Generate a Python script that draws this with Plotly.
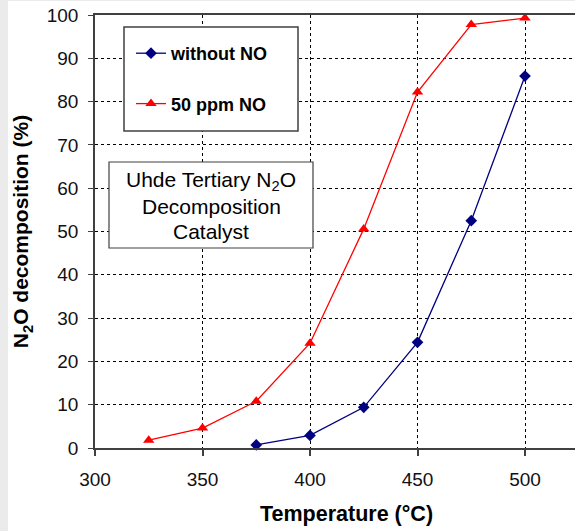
import plotly.graph_objects as go

temp_no = [325, 350, 375, 400, 425, 450, 475, 500]
dec_no = [1.8, 4.6, 10.8, 24.2, 50.6, 82.2, 97.8, 99.3]
temp_without = [375, 400, 425, 450, 475, 500]
dec_without = [0.7, 2.9, 9.4, 24.4, 52.5, 85.9]

x_ticks = [300, 350, 400, 450, 500]
y_ticks = [0, 10, 20, 30, 40, 50, 60, 70, 80, 90, 100]

W, H = 575, 531
ML, MR, MT, MB = 95, 0, 15, 83
PW, PH = W - ML - MR, H - MT - MB

def px(xp):
    return (xp - ML) / PW

def py(yp):
    return (H - MB - yp) / PH

fig = go.Figure()
fig.add_trace(go.Scatter(
    x=temp_without, y=dec_without, name="<b>without NO</b>", mode="lines+markers",
    line=dict(color="#000080", width=1.3),
    marker=dict(symbol="diamond", size=9, color="#000080"),
    legendgroup="a", cliponaxis=False))
fig.add_trace(go.Scatter(
    x=temp_no, y=dec_no, name="<b>50 ppm NO</b>", mode="lines+markers",
    line=dict(color="#ff0000", width=1.3),
    marker=dict(symbol="triangle-up", size=10, color="#ff0000"),
    legendgroup="b", cliponaxis=False))

shapes = [
    dict(type="rect", xref="paper", yref="paper", x0=px(0), x1=px(8), y0=py(H), y1=py(0),
         fillcolor="#ebebeb", line=dict(width=0), layer="below"),
    dict(type="rect", xref="paper", yref="paper", x0=px(0), x1=px(W), y0=py(1), y1=py(0),
         fillcolor="#ebebeb", line=dict(width=0), layer="below"),
    dict(type="rect", xref="paper", yref="paper", x0=px(124), x1=px(298), y0=py(131), y1=py(27),
         fillcolor="white", line=dict(color="#404040", width=1.5), layer="above"),
    dict(type="rect", xref="paper", yref="paper", x0=px(109), x1=px(313), y0=py(248), y1=py(162),
         fillcolor="white", line=dict(color="#404040", width=1.2), layer="above"),
]

ann_lines = ["Uhde Tertiary N<sub>2</sub>O", "Decomposition", "Catalyst"]
ann_y = [181, 207, 232]
annotations = [
    dict(xref="paper", yref="paper", x=px(211), y=py(yy), text=t, showarrow=False,
         xanchor="center", yanchor="middle",
         font=dict(family="Arial, Liberation Sans", size=21, color="black"))
    for t, yy in zip(ann_lines, ann_y)
]
annotations.append(dict(
    xref="paper", yref="paper", x=px(346), y=py(514), text="<b>Temperature (°C)</b>",
    showarrow=False, xanchor="center", yanchor="middle",
    font=dict(family="Arial, Liberation Sans", size=21.5, color="black")))

fig.update_layout(
    width=W, height=H,
    margin=dict(l=ML, r=MR, t=MT, b=MB),
    paper_bgcolor="white", plot_bgcolor="white",
    font=dict(family="Arial, Liberation Sans", color="#111111"),
    showlegend=True,
    legend=dict(x=px(131), y=py(35), xanchor="left", yanchor="top",
                bgcolor="rgba(0,0,0,0)", borderwidth=0,
                font=dict(size=18, color="black", family="Arial, Liberation Sans"),
                tracegroupgap=24, traceorder="grouped"),
    shapes=shapes, annotations=annotations,
)
fig.update_xaxes(
    range=[300, 300 + PW / 2.15], tickvals=x_ticks, ticktext=[str(v) for v in x_ticks],
    showgrid=True, gridcolor="black", griddash="dot", gridwidth=1,
    showline=True, linecolor="#404040", linewidth=2, mirror=True,
    ticks="outside", ticklen=6, tickcolor="#404040", tickwidth=1.5,
    tickfont=dict(size=19, color="#111111"), ticklabelstandoff=7,
    zeroline=False,
)
fig.update_yaxes(
    range=[0, 100], tickvals=y_ticks,
    showgrid=True, gridcolor="black", griddash="dot", gridwidth=1,
    showline=True, linecolor="#404040", linewidth=1.5,
    ticks="outside", ticklen=5, tickcolor="#404040", tickwidth=1,
    tickfont=dict(size=19, color="#111111"), ticklabelstandoff=6,
    zeroline=False,
    title=dict(text="<b>N<sub>2</sub>O decomposition (%)</b>", font=dict(size=21, color="black"), standoff=12),
)

fig.write_html("out.html")
